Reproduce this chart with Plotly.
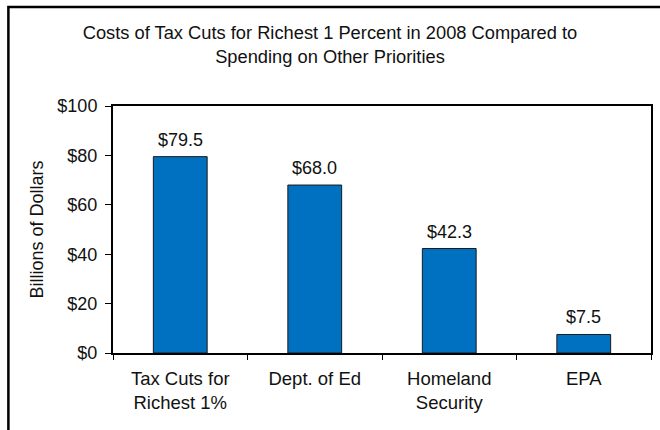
import plotly.graph_objects as go

categories = ["Tax Cuts for<br>Richest 1%", "Dept. of Ed", "Homeland<br>Security", "EPA"]
values = [79.5, 68.0, 42.3, 7.5]
value_labels = ["$79.5", "$68.0", "$42.3", "$7.5"]
y_ticks = [0, 20, 40, 60, 80, 100]
y_tick_labels = ["$0", "$20", "$40", "$60", "$80", "$100"]
title_text = "Costs of Tax Cuts for Richest 1 Percent in 2008 Compared to<br>Spending on Other Priorities"
y_title = "Billions of Dollars"

FONT = "Liberation Sans, Arial, sans-serif"
TXT = "#111111"
W, H = 660, 430
L, R, T, B = 113, 7, 106, 77

fig = go.Figure()
fig.add_trace(go.Bar(
    x=categories, y=values,
    marker=dict(color="#0070C0", line=dict(color="#1a1a1a", width=1)),
    width=0.4,
    hoverinfo="skip",
))

for c, v, lab in zip(categories, values, value_labels):
    fig.add_annotation(x=c, y=v, text=lab, showarrow=False, yanchor="bottom",
                       yshift=5, font=dict(family=FONT, size=18, color=TXT))

fig.update_layout(
    width=W, height=H,
    margin=dict(l=L, r=R, t=T, b=B, pad=0),
    paper_bgcolor="white", plot_bgcolor="white",
    showlegend=False,
    font=dict(family=FONT, size=18, color=TXT),
    title=dict(text=title_text, x=0.5, xanchor="center", y=1 - 39 / H, yanchor="middle",
               font=dict(family=FONT, size=18.3, color=TXT)),
    xaxis=dict(showline=True, linecolor="black", linewidth=2, mirror=True,
               ticks="outside", tickson="boundaries", ticklen=5, tickcolor="black",
               ticklabelstandoff=8,
               tickfont=dict(family=FONT, size=18.5, color=TXT), showgrid=False),
    yaxis=dict(range=[0, 100], tickvals=y_ticks, ticktext=y_tick_labels,
               showline=True, linecolor="black", linewidth=2, mirror=True,
               ticks="outside", ticklen=6, tickcolor="black", showgrid=False, zeroline=False,
               ticklabelstandoff=4,
               tickfont=dict(family=FONT, size=18, color=TXT),
               title=dict(text=y_title, standoff=9, font=dict(family=FONT, size=18, color=TXT))),
)

# outer frame (left and top visible, right/bottom cropped off)
fig.add_shape(type="rect", xref="paper", yref="paper",
              x0=-(L - 8) / (W - L - R), x1=1.2,
              y0=-0.6, y1=1 + (T - 7) / (H - T - B),
              line=dict(color="black", width=2.5), fillcolor="rgba(0,0,0,0)", layer="below")

fig.write_html("out.html", config={"displayModeBar": False},
               post_script="document.body.style.margin='0';")
